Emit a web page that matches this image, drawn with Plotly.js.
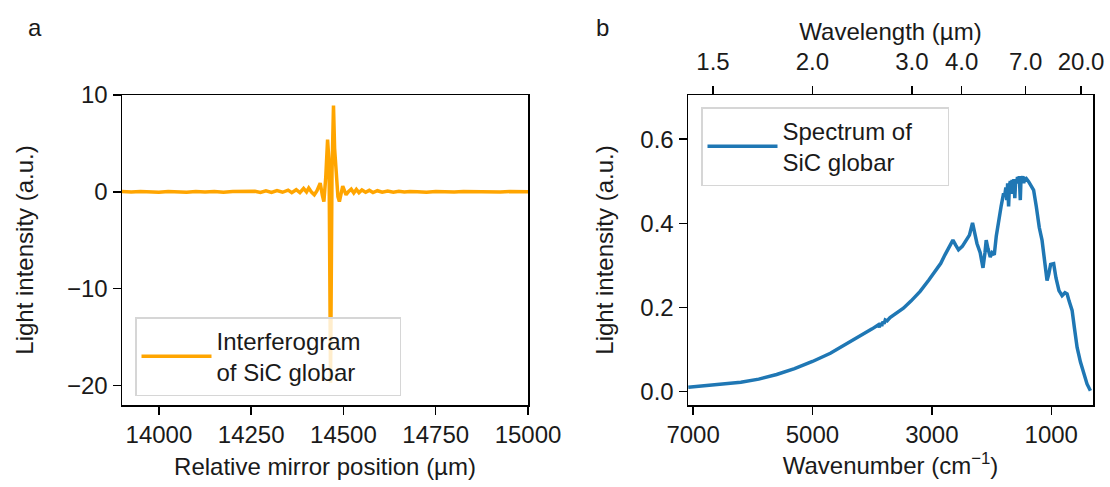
<!DOCTYPE html>
<html>
<head>
<meta charset="utf-8">
<script src="https://cdn.plot.ly/plotly-3.0.1.min.js"></script>
<style>html,body{margin:0;padding:0;background:#fff;}#chart{width:1110px;height:487px;}</style>
</head>
<body>
<div id="chart"></div>
<script>
// Interferogram (panel a)
const mirrorPos = [13900,13925,13950,13975,14000,14025,14050,14075,14100,14125,14150,14175,14200,14225,14250,
  14260,14275,14290,14305,14320,14335,14350,14360,14372,14382,14392,14400,14406,14414,14421,14428,14437,14443,14447,14452,14457,14461,14465,14469,14473,14476,14480,14485,14489,14494,14498,14503,14507,14514,14521,14528,14535,14542,14550,14560,14570,14580,14592,14605,14620,14635,14650,14665,14680,
  14700,14725,14750,14775,14800,14825,14850,14875,14900,14925,14950,14975,15000];
const interferogram = [0.04,-0.02,0.03,0.0,-0.04,0.05,0.02,-0.03,0.04,0.0,0.05,-0.04,0.03,0.04,-0.03,
  0.06,-0.06,0.1,-0.06,0.14,-0.04,0.18,-0.08,0.22,-0.08,0.35,0.0,0.4,-0.05,-0.3,0.1,0.9,-0.4,-1.0,1.5,5.4,3.0,-19.7,2.0,8.9,4.5,2.4,-0.5,-1.0,-0.2,0.6,0.1,-0.3,0.05,0.28,-0.12,0.25,-0.08,0.2,-0.04,0.16,-0.07,0.12,-0.04,0.09,-0.03,0.07,-0.02,0.04,
  0.02,-0.03,0.04,0.0,-0.02,0.03,0.01,-0.04,0.02,0.0,0.03,-0.02,0.01];

// Spectrum (panel b)
const wavenumber = [7080,6800,6500,6200,5900,5600,5300,5000,4700,4426,4200,4000,3900,3880,3860,3840,3820,3800,3780,3750,3700,3600,3531,3476,3350,3196,3050,2916,2850,2780,2700,2647,2600,2553,2490,2424,2370,2318,2280,2244,2190,2143,2110,2089,2060,2021,1990,1954,1920,1882,1840,1798,1780,1760,1745,1730,1714,1700,1685,1670,1655,1640,1625,1610,1595,1580,1565,1550,1535,1518,1505,1490,1475,1460,1445,1430,1410,1378,1340,1295,1250,1200,1154,1110,1070,1040,1010,959,920,870,818,770,734,700,650,610,566,510,455,400,343];
const intensity = [0.010,0.0135,0.017,0.022,0.0295,0.0405,0.0545,0.0715,0.091,0.113,0.132,0.149,0.158,0.153,0.163,0.156,0.166,0.161,0.170,0.168,0.176,0.186,0.193,0.198,0.215,0.238,0.265,0.292,0.305,0.325,0.345,0.360,0.348,0.337,0.345,0.358,0.372,0.401,0.370,0.352,0.330,0.294,0.330,0.360,0.340,0.320,0.330,0.325,0.370,0.407,0.440,0.471,0.465,0.485,0.455,0.495,0.440,0.490,0.500,0.470,0.503,0.485,0.505,0.460,0.505,0.495,0.510,0.500,0.512,0.455,0.510,0.505,0.512,0.495,0.510,0.500,0.505,0.499,0.490,0.479,0.440,0.390,0.360,0.300,0.264,0.280,0.302,0.304,0.270,0.240,0.228,0.235,0.232,0.215,0.193,0.150,0.105,0.070,0.042,0.018,0.002];

// Top axis wavelength labels (µm)
const wavelengthTicks = [1.5, 2.0, 3.0, 4.0, 7.0, 20.0];
const wavelengthLabels = ["1.5","2.0","3.0","4.0","7.0","20.0"];
const wnTicks = [7000,5000,3000,1000];
const posTicks = [14000,14250,14500,14750,15000];

const FONT = "Liberation Sans, Arial, sans-serif";
const TXT = "#1a1a1a";
const fs = 24;

const axisCommon = {
  showgrid:false, zeroline:false, showline:true, linecolor:"#000", linewidth:1.5,
  ticks:"outside", ticklen:8, tickwidth:1.4, tickcolor:"#000",
  tickfont:{family:FONT,size:fs,color:TXT}
};

const traces = [
  {x:mirrorPos, y:interferogram, type:"scatter", mode:"lines", name:"Interferogram<br>of SiC globar",
   line:{color:"#FFA500", width:3.5}, xaxis:"x", yaxis:"y", legend:"legend"},
  {x:wavenumber, y:intensity, type:"scatter", mode:"lines", name:"Spectrum of<br>SiC globar",
   line:{color:"#1f77b4", width:3.5}, xaxis:"x2", yaxis:"y2", legend:"legend2"},
  {x:wavelengthTicks.map(l=>10000/l), y:wavelengthTicks.map(()=>null), type:"scatter", mode:"lines",
   showlegend:false, hoverinfo:"skip", xaxis:"x3", yaxis:"y2"}
];

const layout = {
  width:1110, height:487, paper_bgcolor:"#fff", plot_bgcolor:"#fff",
  margin:{l:0,r:0,t:0,b:0},
  font:{family:FONT,size:fs,color:TXT},
  xaxis:Object.assign({}, axisCommon, {domain:[122/1110,528/1110], range:[13900,15000], tickvals:posTicks,
    ticktext:posTicks.map(String), mirror:true, anchor:"y",
    title:{text:"Relative mirror position (µm)", font:{family:FONT,size:fs,color:TXT}, standoff:11}}),
  yaxis:Object.assign({}, axisCommon, {domain:[82/487,392/487], range:[-22,10], dtick:10, mirror:true, anchor:"x",
    title:{text:"Light intensity (a.u.)", font:{family:FONT,size:fs,color:TXT}, standoff:26}}),
  xaxis2:Object.assign({}, axisCommon, {domain:[688/1110,1093/1110], range:[7085,300], tickvals:wnTicks,
    mirror:true, anchor:"y2",
    title:{text:"Wavenumber (cm<sup>−1</sup>)", font:{family:FONT,size:fs,color:TXT}, standoff:10}}),
  yaxis2:Object.assign({}, axisCommon, {domain:[82/487,392/487], range:[-0.032,0.705], dtick:0.2, tickformat:".1f",
    mirror:true, anchor:"x2",
    title:{text:"Light intensity (a.u.)", font:{family:FONT,size:fs,color:TXT}, standoff:20}}),
  xaxis3:Object.assign({}, axisCommon, {overlaying:"x2", side:"top", anchor:"y2", range:[7085,300],
    tickvals:wavelengthTicks.map(l=>10000/l), ticktext:wavelengthLabels, showline:false, ticklabelstandoff:6,
    title:{text:"Wavelength (µm)", font:{family:FONT,size:fs,color:TXT}, standoff:1}}),
  legend:{x:135/1110, y:(487-317)/487, xanchor:"left", yanchor:"top", xref:"paper", yref:"paper",
    orientation:"h", entrywidth:178,
    bgcolor:"rgba(255,255,255,0.8)", bordercolor:"#d6d6d6", borderwidth:1.5,
    font:{family:FONT,size:fs,color:TXT}, itemwidth:70},
  legend2:{x:701/1110, y:(487-107)/487, xanchor:"left", yanchor:"top", xref:"paper", yref:"paper",
    orientation:"h", entrywidth:160,
    bgcolor:"rgba(255,255,255,0.8)", bordercolor:"#d6d6d6", borderwidth:1.5,
    font:{family:FONT,size:fs,color:TXT}, itemwidth:70},
  annotations:[
    {text:"a", x:35/1110, y:(487-28)/487, xref:"paper", yref:"paper", showarrow:false, xanchor:"center", yanchor:"middle",
     font:{family:FONT,size:fs,color:TXT}},
    {text:"b", x:602/1110, y:(487-28)/487, xref:"paper", yref:"paper", showarrow:false, xanchor:"center", yanchor:"middle",
     font:{family:FONT,size:fs,color:TXT}}
  ],
  showlegend:true
};

Plotly.newPlot("chart", traces, layout, {staticPlot:true, displayModeBar:false});
</script>
</body>
</html>
